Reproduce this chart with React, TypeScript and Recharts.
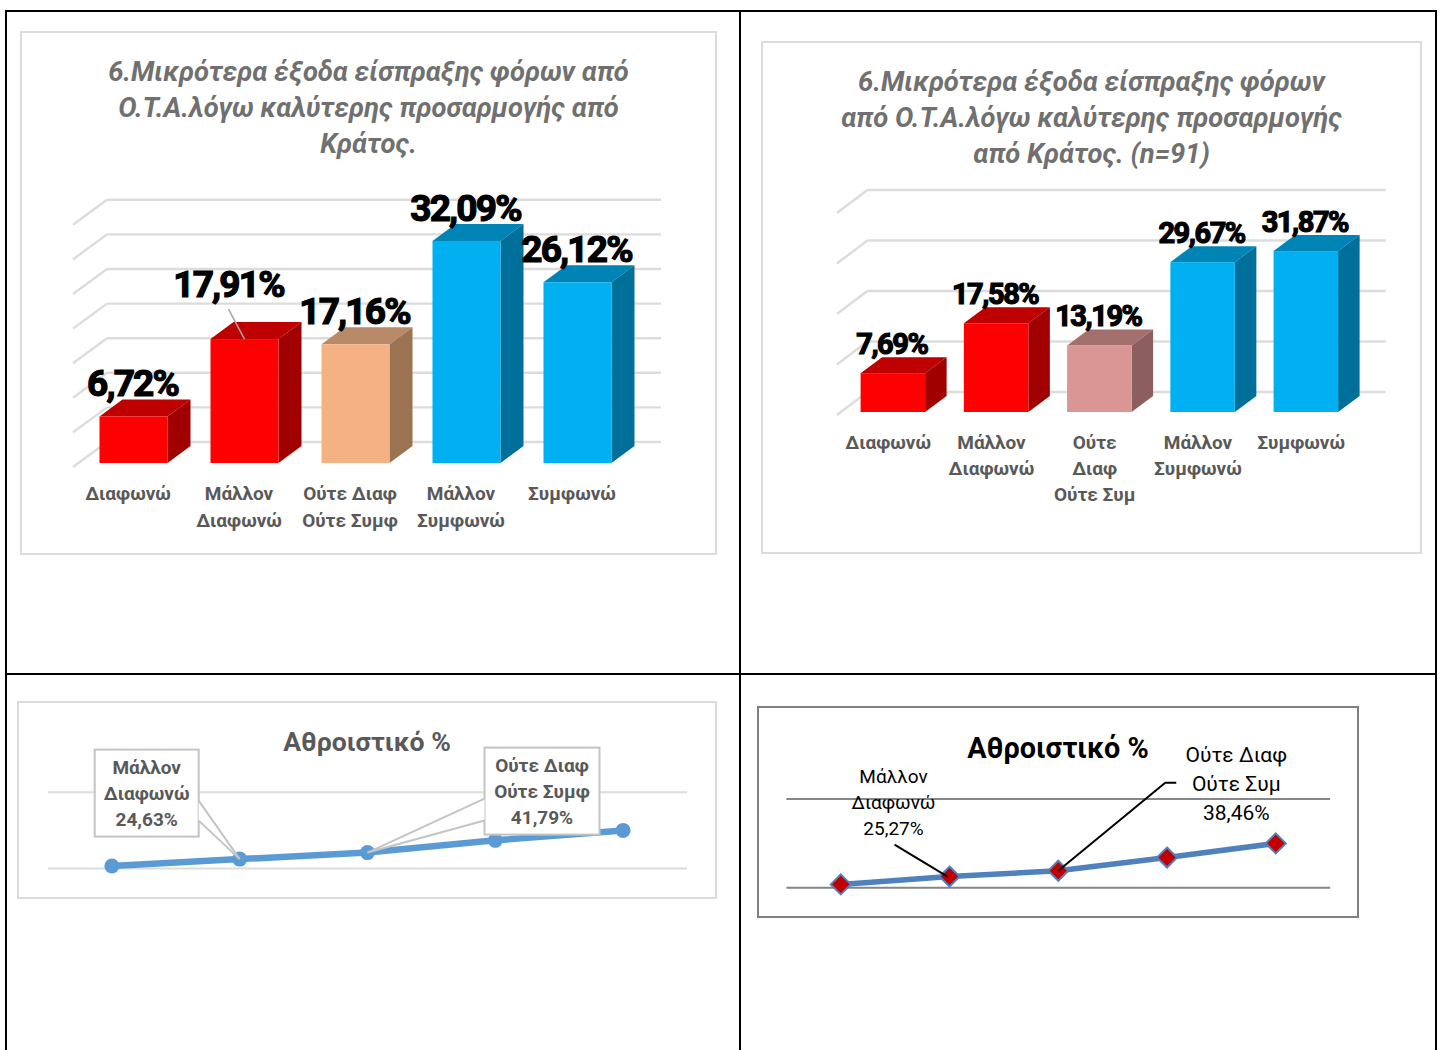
import { BarChart, Bar, XAxis, YAxis, CartesianGrid, LabelList, LineChart, Line } from 'recharts';

const FONT = 'Roboto, "Noto Sans", sans-serif';

const categoriesA = ['Διαφωνώ', 'Μάλλον\nΔιαφωνώ', 'Ούτε Διαφ\nΟύτε Συμφ', 'Μάλλον\nΣυμφωνώ', 'Συμφωνώ'];
const categoriesB = ['Διαφωνώ', 'Μάλλον\nΔιαφωνώ', 'Ούτε\nΔιαφ\nΟύτε Συμ', 'Μάλλον\nΣυμφωνώ', 'Συμφωνώ'];
const valuesA = [6.72, 17.91, 17.16, 32.09, 26.12];
const valuesB = [7.69, 17.58, 13.19, 29.67, 31.87];
const cumulativeA = [6.72, 24.63, 41.79, 73.88, 100];
const cumulativeB = [7.69, 25.27, 38.46, 68.13, 100];
const ticksA = [0, 5, 10, 15, 20, 25, 30, 35];
const ticksB = [0, 10, 20, 30, 40];
const cumulativeTicks = [0, 200];
const titleA = ['6.Μικρότερα έξοδα είσπραξης φόρων από', 'Ο.Τ.Α.λόγω καλύτερης προσαρμογής από', 'Κράτος.'];
const titleB = ['6.Μικρότερα έξοδα είσπραξης φόρων', 'από Ο.Τ.Α.λόγω καλύτερης προσαρμογής', 'από Κράτος. (n=91)'];

// front, top, side shades of a 3D column
const RED = ['#FF0000', '#BE0000', '#A00000'];
const BLUE = ['#00B0F0', '#0084B5', '#006F9A'];
const PEACH = ['#F4B183', '#B88A68', '#9C7352'];
const ROSE = ['#D99694', '#A3706E', '#8C5F5E'];

const pct = (v: number) => v.toFixed(2).replace('.', ',') + '%';
const rows = (cats: string[], vals: number[]) => cats.map((name, i) => ({ name, value: vals[i] }));

function Frame({ left, top, width, height, border, children }: any) {
  return (
    <div style={{ position: 'absolute', left, top, width, height, background: '#fff', boxShadow: `inset 0 0 0 2px ${border}` }}>
      {children}
    </div>
  );
}

function Title({ lines, top, center, size, color, italic }: any) {
  return (
    <div style={{
      position: 'absolute', left: center - 340, width: 680, top, textAlign: 'center', fontFamily: FONT,
      fontWeight: 700, fontStyle: italic ? 'italic' : 'normal', fontSize: size, lineHeight: '36px', color, whiteSpace: 'nowrap',
    }}>
      {lines.map((l: string) => <div key={l}>{l}</div>)}
    </div>
  );
}

type Bar3DProps = {
  box: { left: number; top: number; width: number; height: number };
  plot: { left: number; width: number; top: number; bottom: number };
  data: { name: string; value: number }[];
  domainMax: number;
  ticks: number[];
  barSize: number;
  depth: { dx: number; dy: number };
  wall: { backX: number; backY: number; frontX: number; frontY: number; endX: number };
  shades: string[][];
  labelSize: number;
  labelGap: number;
  lineHeight: number;
  leader?: number;
  title: string[];
};

function Bar3DChart(p: Bar3DProps) {
  const { box, plot, depth, wall } = p;
  const xAxisHeight = 40;
  const margin = {
    left: plot.left - box.left,
    right: box.width - (plot.left - box.left) - plot.width,
    top: plot.top - box.top,
    bottom: box.top + box.height - plot.bottom - xAxisHeight,
  };

  // gridlines run on the back plane and fold forward along the left wall
  const gridLine = (g: any) => (
    <g key={g.key}>
      <line x1={g.x1 + wall.backX} y1={g.y1 + wall.backY} x2={g.x2 + wall.endX} y2={g.y1 + wall.backY} stroke="#dcdcdc" strokeWidth={2.4} />
      <line x1={g.x1 + wall.frontX} y1={g.y1 + wall.frontY} x2={g.x1 + wall.backX} y2={g.y1 + wall.backY} stroke="#dcdcdc" strokeWidth={2.4} />
    </g>
  );

  const column = (b: any) => {
    const [front, top, side] = p.shades[b.index];
    const { x, y, width: w, height: h } = b;
    const { dx, dy } = depth;
    return (
      <g>
        <polygon points={`${x},${y} ${x + dx},${y - dy} ${x + w + dx},${y - dy} ${x + w},${y}`} fill={top} />
        <polygon points={`${x + w},${y} ${x + w + dx},${y - dy} ${x + w + dx},${y + h - dy} ${x + w},${y + h}`} fill={side} />
        <rect x={x} y={y} width={w} height={h} fill={front} />
      </g>
    );
  };

  const valueLabel = (l: any) => {
    const cx = l.x + l.width / 2 - 1;
    const pulled = l.index === p.leader;
    const tx = pulled ? cx - 15 : cx;
    const ty = l.y - (pulled ? 42 : p.labelGap);
    return (
      <g>
        {pulled && <line x1={cx - 15} y1={l.y - 30} x2={cx + 1} y2={l.y} stroke="#a6a6a6" strokeWidth={1.5} />}
        <text x={tx} y={ty} textAnchor="middle" fontFamily={FONT} fontWeight={700} fontSize={p.labelSize}
          fill="#000" stroke="#000" strokeWidth={1.2} style={{ letterSpacing: '-0.05em' }}>
          {pct(l.value)}
        </text>
      </g>
    );
  };

  const categoryTick = (t: any) => (
    <text x={t.x - 5} y={t.y + 37} textAnchor="middle" fontFamily={FONT} fontWeight={700} fontSize={19} fill="#595959">
      {String(t.payload.value).split('\n').map((line, i) => (
        <tspan key={i} x={t.x - 5} dy={i === 0 ? 0 : p.lineHeight}>{line}</tspan>
      ))}
    </text>
  );

  return (
    <Frame {...box} border="#dcdcdc">
      <Title lines={p.title} top={23} center={box.width / 2} size={27.4} color="#707070" italic />
      <div style={{ position: 'absolute', left: 0, top: 0 }}>
        <BarChart width={box.width} height={box.height} data={p.data} margin={margin}>
          <CartesianGrid vertical={false} horizontal={gridLine} />
          <XAxis dataKey="name" interval={0} height={xAxisHeight} axisLine={false} tickLine={false} tickSize={0} tickMargin={0} tick={categoryTick} />
          <YAxis hide domain={[0, p.domainMax]} ticks={p.ticks} />
          <Bar dataKey="value" barSize={p.barSize} shape={column} isAnimationActive={false}>
            <LabelList dataKey="value" content={valueLabel} />
          </Bar>
        </BarChart>
      </div>
    </Frame>
  );
}

function Callout({ x, y, dx, dy, w, h, notchTop, notchBottom, side, lines }: any) {
  const bx = x + dx;
  const by = y + dy;
  const edge = side === 'right' ? bx + w : bx;
  return (
    <g>
      <rect x={bx} y={by} width={w} height={h} fill="#fff" stroke="#c4c4c4" strokeWidth={2} />
      <polygon points={`${edge},${by + notchTop} ${x},${y} ${edge},${by + notchBottom}`} fill="#fff" />
      <line x1={edge} y1={by + notchTop} x2={x} y2={y} stroke="#c4c4c4" strokeWidth={2} />
      <line x1={edge} y1={by + notchBottom} x2={x} y2={y} stroke="#c4c4c4" strokeWidth={2} />
      {lines.map((line: string, i: number) => (
        <text key={i} x={bx + w / 2} y={by + 24.5 + i * 26} textAnchor="middle" fontFamily={FONT} fontWeight={700} fontSize={19} fill="#595959">{line}</text>
      ))}
    </g>
  );
}

function CumulativeLight() {
  const box = { left: 17, top: 701, width: 700, height: 198 };
  const data = rows(categoriesA, cumulativeA);
  const calloutLabel = (l: any) => {
    const lines = [...data[l.index].name.split('\n'), pct(l.value)];
    if (l.index === 1) return <Callout x={l.x} y={l.y} dx={-145} dy={-109.5} w={104} h={87} notchTop={51} notchBottom={71} side="right" lines={lines} />;
    if (l.index === 2) return <Callout x={l.x} y={l.y} dx={117} dy={-105} w={115} h={87} notchTop={51} notchBottom={73} side="left" lines={lines} />;
    return <g />;
  };
  return (
    <Frame {...box} border="#dcdcdc">
      <div style={{ position: 'absolute', left: 0, top: 0 }}>
        <LineChart width={box.width} height={box.height} data={data} margin={{ left: 31, right: 30, top: 91.3, bottom: 30.5 }}>
          <CartesianGrid vertical={false} stroke="#dcdcdc" strokeWidth={2} />
          <XAxis hide dataKey="name" padding={{ left: 63.9, right: 63.9 }} />
          <YAxis hide domain={[0, 200]} ticks={cumulativeTicks} />
          <Line dataKey="value" stroke="#5B9BD5" strokeWidth={6.5} dot={{ r: 7.5, fill: '#5B9BD5', stroke: '#5B9BD5', strokeWidth: 0 }} isAnimationActive={false}>
            <LabelList dataKey="value" content={calloutLabel} />
          </Line>
        </LineChart>
      </div>
      <Title lines={['Αθροιστικό %']} top={23} center={350} size={26.6} color="#595959" />
    </Frame>
  );
}

function CumulativeDark() {
  const box = { left: 757, top: 706, width: 602, height: 212 };
  const data = rows(categoriesB, cumulativeB);
  const diamond = (d: any) => (
    <polygon key={d.index} points={`${d.cx},${d.cy - 10} ${d.cx + 10},${d.cy} ${d.cx},${d.cy + 10} ${d.cx - 10},${d.cy}`} fill="#C00000" stroke="#4F81BD" strokeWidth={2} />
  );
  const noteLabel = (l: any) => {
    if (l.index === 1) {
      return (
        <g fontFamily={FONT} fontSize={19} fill="#000" textAnchor="middle">
          {['Μάλλον', 'Διαφωνώ', pct(l.value)].map((t, i) => <text key={i} x={l.x - 56} y={l.y - 94 + i * 26}>{t}</text>)}
          <line x1={l.x - 55} y1={l.y - 32} x2={l.x - 2} y2={l.y} stroke="#000" strokeWidth={2} />
        </g>
      );
    }
    if (l.index === 2) {
      return (
        <g fontFamily={FONT} fontSize={21} fill="#000" textAnchor="middle">
          {['Ούτε Διαφ', 'Ούτε Συμ', pct(l.value)].map((t, i) => <text key={i} x={l.x + 178} y={l.y - 109 + i * 29}>{t}</text>)}
          <polyline points={`${l.x + 118},${l.y - 88} ${l.x + 107},${l.y - 88} ${l.x},${l.y}`} fill="none" stroke="#000" strokeWidth={2} />
        </g>
      );
    }
    return <g />;
  };
  return (
    <Frame {...box} border="#7f7f7f">
      <div style={{ position: 'absolute', left: 0, top: 0 }}>
        <LineChart width={box.width} height={box.height} data={data} margin={{ left: 29.4, right: 28.85, top: 93, bottom: 30.2 }}>
          <CartesianGrid vertical={false} stroke="#868686" strokeWidth={2} />
          <XAxis hide dataKey="name" padding={{ left: 54.4, right: 54.4 }} />
          <YAxis hide domain={[0, 200]} ticks={cumulativeTicks} />
          <Line dataKey="value" stroke="#4F81BD" strokeWidth={5.5} dot={diamond} isAnimationActive={false}>
            <LabelList dataKey="value" content={noteLabel} />
          </Line>
        </LineChart>
      </div>
      <Title lines={['Αθροιστικό %']} top={24} center={301} size={28.8} color="#000" />
    </Frame>
  );
}

// table rules around the four cells
const rules = [
  { left: 6, top: 10, width: 1431, height: 2 },
  { left: 6, top: 673, width: 1431, height: 2 },
  { left: 5, top: 10, width: 2, height: 1040 },
  { left: 739, top: 10, width: 2, height: 1040 },
  { left: 1435, top: 10, width: 2, height: 1040 },
];

export default function App() {
  return (
    <div style={{ position: 'absolute', left: 0, top: 0, width: 1440, height: 1050, overflow: 'hidden', background: '#fff' }}>
      {rules.map((r, i) => <div key={i} style={{ position: 'absolute', background: '#000', ...r }} />)}
      <Bar3DChart
        box={{ left: 20, top: 31, width: 697, height: 524 }}
        plot={{ left: 77.5, width: 555, top: 220.8, bottom: 463 }}
        data={rows(categoriesA, valuesA)}
        domainMax={35}
        ticks={ticksA}
        barSize={68}
        depth={{ dx: 23, dy: 17 }}
        wall={{ backX: 29.5, backY: -21, frontX: -4.5, frontY: 4, endX: 28.5 }}
        shades={[RED, RED, PEACH, BLUE, BLUE]}
        labelSize={37}
        labelGap={20}
        lineHeight={27}
        leader={1}
        title={titleA}
      />
      <Bar3DChart
        box={{ left: 761, top: 41, width: 661, height: 513 }}
        plot={{ left: 841.6, width: 516.25, top: 210, bottom: 412 }}
        data={rows(categoriesB, valuesB)}
        domainMax={40}
        ticks={ticksB}
        barSize={64.5}
        depth={{ dx: 21.5, dy: 16 }}
        wall={{ backX: 25.8, backY: -20, frontX: -4.7, frontY: 3, endX: 27.8 }}
        shades={[RED, RED, ROSE, BLUE, BLUE]}
        labelSize={29}
        labelGap={19}
        lineHeight={26}
        title={titleB}
      />
      <CumulativeLight />
      <CumulativeDark />
    </div>
  );
}
